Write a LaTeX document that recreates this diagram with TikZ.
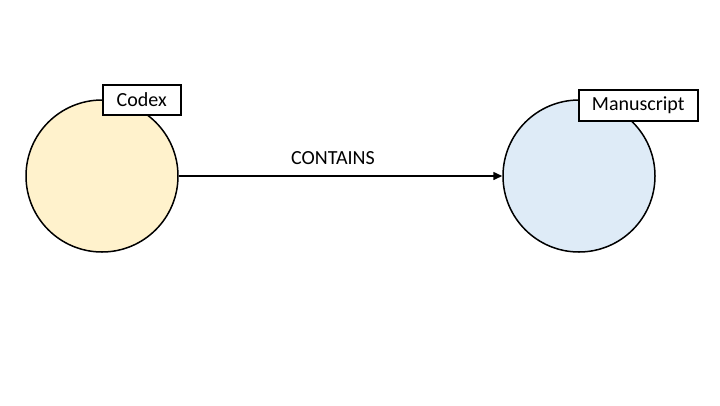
\documentclass[tikz,border=0pt]{standalone}
\usepackage{fontspec}
\setmainfont{Carlito}
\usetikzlibrary{arrows.meta}
\definecolor{codexfill}{HTML}{FFF2CC}
\definecolor{manufill}{HTML}{DEEBF7}
\tikzset{
  entity/.style={circle, draw=black, line width=1.5pt, minimum size=152pt, inner sep=0pt},
  tag/.style={draw=black, fill=white, line width=1.5pt, inner xsep=0pt, inner ysep=0pt, anchor=north west, font=\fontsize{20}{24}\selectfont},
  rel/.style={draw=black, line width=1.5pt, -{Triangle[length=9pt,width=8pt]}},
  rellabel/.style={font=\fontsize{20}{24}\selectfont}
}
\begin{document}
\begin{tikzpicture}[x=1pt,y=-1pt]
\useasboundingbox (0,0) rectangle (720,405);
\node[entity, fill=codexfill] (codex) at (102,176) {};
\node[entity, fill=manufill] (manu) at (579,176) {};
\node[tag, minimum width=78pt, minimum height=30pt] (codextag) at (102,84) {Codex};
\node[tag, minimum width=119pt, minimum height=31pt] (manutag) at (578,89) {Manuscript};
\draw[rel] (codex.east) -- (manu.west);
\node[rellabel] (contains) at (333,158) {CONTAINS};
\end{tikzpicture}
\end{document}
